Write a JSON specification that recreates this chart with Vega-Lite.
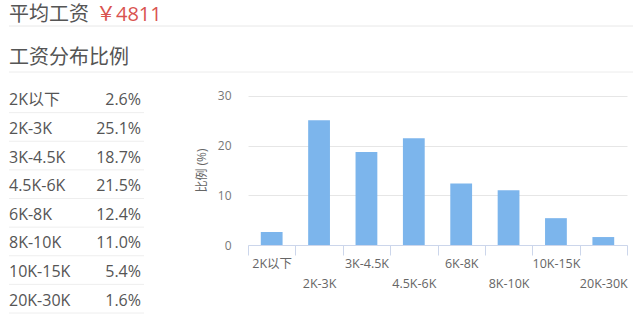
{
  "$schema": "https://vega.github.io/schema/vega-lite/v6.json",
  "background": "white",
  "padding": {"left": 8, "right": 8, "top": 0, "bottom": 0},
  "config": {
    "font": "'Open Sans', 'Noto Sans CJK SC'",
    "view": {"stroke": null}
  },
  "datasets": {
    "salary": [
      {"range": "2K以下", "pct": 2.6},
      {"range": "2K-3K", "pct": 25.1},
      {"range": "3K-4.5K", "pct": 18.7},
      {"range": "4.5K-6K", "pct": 21.5},
      {"range": "6K-8K", "pct": 12.4},
      {"range": "8K-10K", "pct": 11.0},
      {"range": "10K-15K", "pct": 5.4},
      {"range": "20K-30K", "pct": 1.6}
    ]
  },
  "bounds": "flush",
  "spacing": 0,
  "vconcat": [
    {
      "width": 624,
      "height": 26,
      "data": {"values": [{"label": "平均工资", "avg": "￥4811"}]},
      "layer": [
        {
          "mark": {"type": "text", "align": "left", "baseline": "middle", "fontSize": 20, "color": "#555555"},
          "encoding": {"x": {"value": 0}, "y": {"value": 15}, "text": {"field": "label"}}
        },
        {
          "mark": {"type": "text", "align": "left", "baseline": "middle", "fontSize": 20, "color": "#d9534f"},
          "encoding": {"x": {"value": 87}, "y": {"value": 15}, "text": {"field": "avg"}}
        },
        {
          "mark": {"type": "rule", "color": "#e8e8e8", "strokeWidth": 1},
          "encoding": {"y": {"value": "height"}}
        }
      ]
    },
    {
      "width": 624,
      "height": 58,
      "data": {"values": [{"heading": "工资分布比例"}]},
      "layer": [
        {
          "mark": {"type": "text", "align": "left", "baseline": "middle", "fontSize": 20, "color": "#555555"},
          "encoding": {"x": {"value": 0}, "y": {"value": 32}, "text": {"field": "heading"}}
        },
        {
          "mark": {"type": "rule", "color": "#ececec", "strokeWidth": 1},
          "encoding": {"y": {"value": 46}}
        }
      ]
    },
    {
      "bounds": "flush",
      "spacing": 104,
      "hconcat": [
        {
          "width": 135,
          "height": 229,
          "data": {"name": "salary"},
          "transform": [
            {"calculate": "format(datum.pct, '.1f') + '%'", "as": "pctLabel"}
          ],
          "encoding": {
            "y": {
              "field": "range",
              "type": "nominal",
              "sort": null,
              "axis": null,
              "scale": {"paddingInner": 0, "paddingOuter": 0}
            }
          },
          "layer": [
            {
              "mark": {"type": "text", "align": "left", "baseline": "middle", "fontSize": 16, "color": "#555555", "dy": 2},
              "encoding": {"x": {"value": 0}, "text": {"field": "range"}}
            },
            {
              "mark": {"type": "text", "align": "right", "baseline": "middle", "fontSize": 16, "color": "#555555", "dy": 2, "dx": -3},
              "encoding": {"x": {"value": "width"}, "text": {"field": "pctLabel"}}
            },
            {
              "mark": {"type": "rule", "color": "#eeeeee", "strokeWidth": 1},
              "encoding": {
                "y": {"field": "range", "type": "nominal", "sort": null, "bandPosition": 1}
              }
            }
          ]
        },
        {
          "width": 379,
          "height": 161,
          "data": {"name": "salary"},
          "mark": {"type": "bar", "color": "#7cb5ec", "width": {"band": 0.46}},
          "encoding": {
            "x": {
              "field": "range",
              "type": "nominal",
              "sort": null,
              "title": null,
              "scale": {"paddingInner": 0, "paddingOuter": 0},
              "axis": {
                "labelAngle": 0,
                "labelOverlap": false,
                "tickBand": "extent",
                "tickSize": 10,
                "domainColor": "#ccd6eb",
                "tickColor": "#ccd6eb",
                "labelColor": "#666666",
                "labelFontSize": 12.5,
                "labelPadding": 2,
                "labelLineHeight": 20,
                "labelExpr": "indexof(['2K-3K','4.5K-6K','8K-10K','20K-30K'], datum.label) >= 0 ? ['', datum.label] : datum.label",
                "grid": false
              }
            },
            "y": {
              "field": "pct",
              "type": "quantitative",
              "title": "比例 (%)",
              "scale": {"domain": [0, 32.4], "nice": false},
              "axis": {
                "values": [0, 10, 20, 30],
                "domain": false,
                "ticks": false,
                "gridColor": "#e6e6e6",
                "labelColor": "#777777",
                "labelFontSize": 12,
                "labelPadding": 17,
                "titleColor": "#666666",
                "titleFontSize": 12,
                "titleFontWeight": "normal",
                "titlePadding": 9,
                "titleY": 86
              }
            }
          }
        }
      ]
    }
  ]
}
